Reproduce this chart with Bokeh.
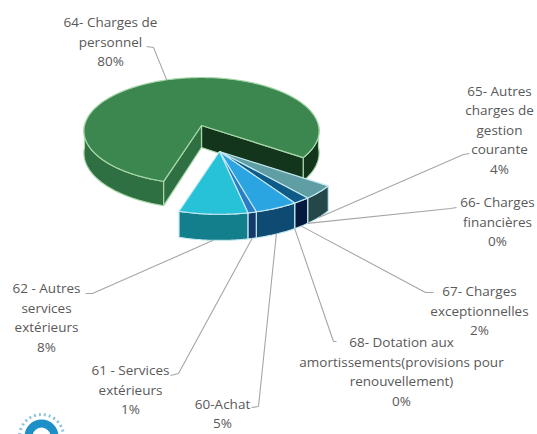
import numpy as np
from bokeh.plotting import figure
from bokeh.embed import file_html
from bokeh.resources import INLINE
from bokeh.core.properties import value
from bokeh.models import Range1d

# data
labels = ["64- Charges de\npersonnel\n80%", "65- Autres\ncharges de\ngestion\ncourante\n4%",
          "66- Charges\nfinancières\n0%", "67- Charges\nexceptionnelles\n2%",
          "68- Dotation aux\namortissements(provisions pour\nrenouvellement)\n0%",
          "60-Achat\n5%", "61 - Services\nextérieurs\n1%", "62 - Autres\nservices\nextérieurs\n8%"]
values = [80, 4, 0, 2, 0, 5, 1, 8]
top_colors = ["#3c8750", "#5f9ea3", "#0b1f4a", "#0e5a88", "#0b2a55", "#2ba4e2", "#2a7cc4", "#28c2d8"]
side_colors = ["#2f7042", "#24484a", "#0b1f4a", "#061a40", "#0b2a55", "#0e4a72", "#143a6b", "#137f8c"]

# layout
W, H = 537, 434
A, B, P, DEPTH = 117.0, 52.8, 0.1, 22.0
START = 35.0
MAIN_C = (201.0, 125.0)
EXPL_C = (219.0, 151.0)
EXPL_S = 1.07
TXT = "#595959"
FONT = "Open Sans"
label_pos = [(110, 41), (499, 129), (497, 221), (479, 310), (401, 371), (222, 413), (130, 389), (46, 317)]
elbows = [[(146, 46), (153, 47)], [(469, 153), (463, 154)], [(456, 207), (450, 208)],
          [(433, 292), (425, 292)], [(336, 341), (333, 341)], [(251, 407), (258, 406)],
          [(170, 375), (178, 373)], [(85, 293), (92, 293)]]


def pt(c, deg, scale=1.0, drop=0.0):
    t = np.radians(deg)
    s = scale / (1 - P * np.sin(t))
    return c[0] + A * np.cos(t) * s, c[1] + B * np.sin(t) * s + drop * s


def arc(c, a0, a1, scale=1.0, drop=0.0):
    d = np.linspace(a0, a1, max(2, int(abs(a1 - a0)) + 2))
    x, y = pt(c, d, scale, drop)
    return list(x), list(y)


p = figure(width=W, height=H, x_range=Range1d(0, W), y_range=Range1d(H, 0),
           output_backend="svg", toolbar_location=None, min_border=0, outline_line_color=None)
p.axis.visible = False
p.grid.visible = False
p.background_fill_color = "white"
p.border_fill_color = "white"

RIM_G = "#a9d8ab"
RIM_B = "#c4e8f0"

spans = []
a = START
for v in values[1:]:
    spans.append((a, a + v * 3.6))
    a += v * 3.6
main_a0, main_a1 = a, START + 360.0


def side(c, a0, a1, scale, color, rim):
    xt, yt = arc(c, a0, a1, scale)
    xb, yb = arc(c, a0, a1, scale, DEPTH)
    p.patch(xt + xb[::-1], yt + yb[::-1], fill_color=color, line_color=rim, line_width=1.2)


# main slice: faces
ax, ay = MAIN_C
x1, y1 = pt(MAIN_C, main_a0)
x1b, y1b = pt(MAIN_C, main_a0, 1.0, DEPTH)
x2, y2 = pt(MAIN_C, main_a1)
x2b, y2b = pt(MAIN_C, main_a1, 1.0, DEPTH)
side(MAIN_C, main_a0, 180.0, 1.0, side_colors[0], RIM_G)
side(MAIN_C, 360.0, main_a1, 1.0, "#12351c", RIM_G)
p.patch([ax, x2, x2b, ax], [ay, y2, y2b, ay + DEPTH], fill_color="#12351c", line_color=RIM_G, line_width=1.2)
p.patch([ax, x1, x1b, ax], [ay, y1, y1b, ay + DEPTH], fill_color=side_colors[0], line_color=RIM_G, line_width=1.2)
xt, yt = arc(MAIN_C, main_a0, main_a1)
p.patch([ax] + xt, [ay] + yt, fill_color=top_colors[0], line_color=RIM_G, line_width=1.2)

# exploded group
for (a0, a1), v, sc in zip(spans, values[1:], side_colors[1:]):
    if v == 0:
        continue
    side(EXPL_C, a0, a1, EXPL_S, sc, RIM_B)
for (a0, a1), v, tc in zip(spans, values[1:], top_colors[1:]):
    if v == 0:
        continue
    xt, yt = arc(EXPL_C, a0, a1, EXPL_S)
    p.patch([EXPL_C[0]] + xt, [EXPL_C[1]] + yt, fill_color=tc, line_color=RIM_B, line_width=1.2)

# leaders
anchors = [pt(MAIN_C, (main_a0 + main_a1) / 2)]
for a0, a1 in spans:
    anchors.append(pt(EXPL_C, (a0 + a1) / 2, EXPL_S, DEPTH))
for anc, el in zip(anchors, elbows):
    p.line([anc[0], el[1][0], el[0][0]], [anc[1], el[1][1], el[0][1]], line_color="#a6a6a6", line_width=1.1)

# labels
LINE = 19.5
for lab, (lx, ly) in zip(labels, label_pos):
    rows = lab.split("\n")
    n = len(rows)
    ys = [ly + (i - (n - 1) / 2) * LINE for i in range(n)]
    p.text([lx] * n, ys, text=rows, text_font=value(FONT), text_font_size="13.5px", text_color=TXT,
           text_align="center", text_baseline="middle")

# logo fragment bottom-left
p.annular_wedge([41], [436], inner_radius=9, outer_radius=17, start_angle=0, end_angle=np.pi,
                fill_color="#1e90c8", line_color=None)
p.arc([41], [436], radius=22, start_angle=0, end_angle=np.pi, line_color="#8fc4dc", line_width=3, line_dash="2 3")

open("out.html", "w").write(file_html(p, INLINE))
